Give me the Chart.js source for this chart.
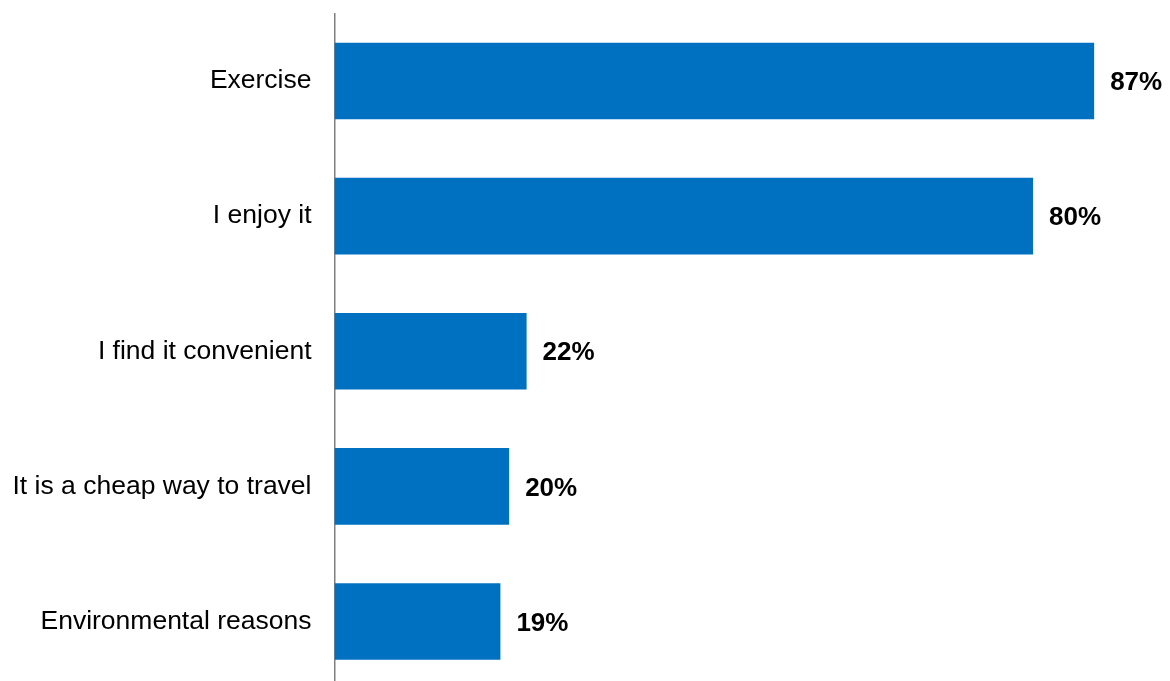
<!DOCTYPE html>
<html>
<head>
<meta charset="utf-8">
<script src="https://cdn.jsdelivr.net/npm/chart.js@4"></script>
<style>
    html, body { margin: 0; padding: 0; background: #fff; overflow: hidden; }
    #wrap { position: relative; width: 1170px; height: 689px; }
</style>
</head>
<body>
<div id="wrap"><canvas id="reasonsChart"></canvas></div>
<script>
// Reasons for cycling (% of respondents)
const reasons = ['Exercise', 'I enjoy it', 'I find it convenient', 'It is a cheap way to travel', 'Environmental reasons'];
const shares = [87, 80, 22, 20, 19];

const barBlue = '#0070C0';
const labelFont = 'Liberation Sans, Arial, sans-serif';

// Write the percentage just past the end of each bar
const valueLabels = {
    id: 'valueLabels',
    afterDatasetsDraw(chart) {
        const ctx = chart.ctx;
        const meta = chart.getDatasetMeta(0);
        ctx.save();
        ctx.font = 'bold 26px ' + labelFont;
        ctx.fillStyle = '#000';
        ctx.textAlign = 'left';
        ctx.textBaseline = 'middle';
        meta.data.forEach((bar, i) => {
            ctx.fillText(shares[i] + '%', bar.x + 16, bar.y + 2);
        });
        ctx.restore();
    }
};

const ctx = document.getElementById('reasonsChart').getContext('2d');
const reasonsChart = new Chart(ctx, {
    type: 'bar',
    data: {
        labels: reasons,
        datasets: [{
            data: shares,
            backgroundColor: barBlue,
            borderWidth: 0,
            categoryPercentage: 1,
            barPercentage: 0.567
        }]
    },
    options: {
        indexAxis: 'y',
        responsive: true,
        maintainAspectRatio: false,
        animation: false,
        layout: { padding: { top: 13.5, right: 6, bottom: 0, left: 0 } },
        plugins: {
            legend: { display: false },
            tooltip: { enabled: false }
        },
        scales: {
            x: {
                display: false,
                min: 0,
                max: 95
            },
            y: {
                z: 1,
                grid: { display: false },
                border: { display: true, color: '#808080', width: 1.5 },
                ticks: {
                    padding: 15,
                    color: '#000',
                    font: { family: labelFont, size: 26.5 }
                },
                afterFit(scale) {
                    // fixed label column, no extra room above/below the bars
                    scale.width = 334.5;
                    scale.paddingTop = 0;
                    scale.paddingBottom = 0;
                }
            }
        }
    },
    plugins: [valueLabels]
});
</script>
</body>
</html>
